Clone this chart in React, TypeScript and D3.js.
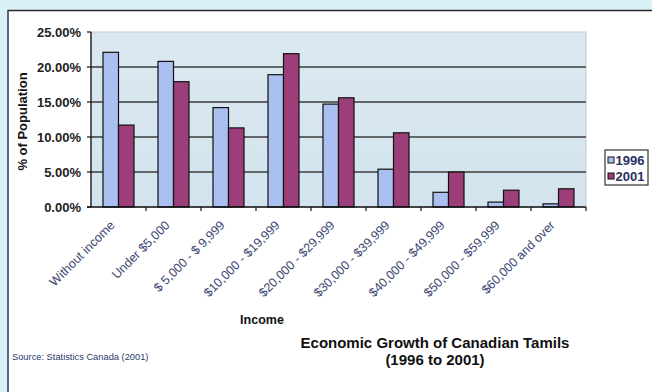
import React from "react";
import * as d3 from "d3";

const categories = [
  "Without income",
  "Under $5,000",
  "$ 5,000 - $ 9,999",
  "$10,000 - $19,999",
  "$20,000 - $29,999",
  "$30,000 - $39,999",
  "$40,000 - $49,999",
  "$50,000 - $59,999",
  "$60,000 and over",
];
const seriesNames = ["1996", "2001"];
const values1996 = [22.1, 20.8, 14.2, 18.9, 14.7, 5.4, 2.1, 0.7, 0.45];
const values2001 = [11.7, 17.9, 11.3, 21.9, 15.6, 10.6, 5.0, 2.4, 2.6];
const yTicks = [0, 5, 10, 15, 20, 25];

const W = 652;
const H = 392;
const FONT = "'Liberation Sans', Arial, sans-serif";
const colors = ["#a9c0f0", "#9c3e79"];

export default function App() {
  const plot = { left: 91, right: 586, top: 32, bottom: 207 };
  const x = d3.scaleBand<string>().domain(categories).range([plot.left, plot.right]).padding(0);
  const xi = d3
    .scaleBand<string>()
    .domain(seriesNames)
    .range([0, x.bandwidth()])
    .paddingInner(0)
    .paddingOuter(0.774);
  const y = d3.scaleLinear().domain([0, 25]).range([plot.bottom, plot.top]);
  const series = [values1996, values2001];
  const fmt = (v: number) => d3.format(".2f")(v) + "%";

  return (
    <svg
      width={W}
      height={H}
      style={{ position: "absolute", left: 0, top: 0 }}
      fontFamily={FONT}
    >
      <defs>
        <linearGradient id="plotbg" x1="0" y1="0" x2="0" y2="1">
          <stop offset="0" stopColor="#dbe8ef" />
          <stop offset="1" stopColor="#d3e4ee" />
        </linearGradient>
      </defs>
      <rect x={0} y={0} width={W} height={H} fill="#d9f0f6" />
      <rect x={8} y={10} width={W} height={H} fill="#ffffff" />
      <line x1={8} y1={10.5} x2={W} y2={10.5} stroke="#2a2a2a" strokeWidth={1.5} />
      <line x1={8} y1={10} x2={8} y2={H} stroke="#2a3a5a" strokeWidth={1.5} />

      {/* plot area */}
      <rect
        x={plot.left}
        y={plot.top}
        width={plot.right - plot.left}
        height={plot.bottom - plot.top}
        fill="url(#plotbg)"
        stroke="#bccbd4"
        strokeWidth={1}
      />
      {yTicks
        .filter((t) => t > 0 && t < 25)
        .map((t) => (
          <line
            key={"g" + t}
            x1={plot.left}
            x2={plot.right}
            y1={y(t)}
            y2={y(t)}
            stroke="#3c3c3c"
            strokeWidth={1.3}
          />
        ))}

      {/* bars */}
      {categories.map((c, i) =>
        series.map((s, j) => (
          <rect
            key={c + j}
            x={(x(c) as number) + (xi(seriesNames[j]) as number)}
            y={y(s[i])}
            width={xi.bandwidth()}
            height={y(0) - y(s[i])}
            fill={colors[j]}
            stroke="#111"
            strokeWidth={1.2}
          />
        ))
      )}

      {/* axes */}
      <line x1={plot.left} x2={plot.left} y1={plot.top} y2={plot.bottom} stroke="#111" strokeWidth={1.3} />
      <line x1={plot.left - 4} x2={plot.right} y1={plot.bottom} y2={plot.bottom} stroke="#111" strokeWidth={1.3} />
      {yTicks.map((t) => (
        <g key={"yt" + t}>
          <line x1={plot.left - 4} x2={plot.left} y1={y(t)} y2={y(t)} stroke="#111" strokeWidth={1.2} />
          <text
            x={81}
            y={y(t)}
            dy="0.35em"
            textAnchor="end"
            fontSize={13}
            fontWeight="bold"
            fill="#222"
          >
            {fmt(t)}
          </text>
        </g>
      ))}
      {categories.map((c, i) => (
        <line
          key={"xt" + i}
          x1={(x(c) as number) + x.bandwidth()}
          x2={(x(c) as number) + x.bandwidth()}
          y1={plot.bottom}
          y2={plot.bottom + 4}
          stroke="#111"
          strokeWidth={1.2}
        />
      ))}
      {categories.map((c) => {
        const cx = (x(c) as number) + x.bandwidth() / 2;
        return (
          <text
            key={"xl" + c}
            transform={`translate(${cx - 3},${plot.bottom + 19}) rotate(-45)`}
            textAnchor="end"
            fontSize={12.5}
            fill="#3a4672"
          >
            {c}
          </text>
        );
      })}

      {/* axis titles */}
      <text
        transform={`translate(27,${(plot.top + plot.bottom) / 2 + 2}) rotate(-90)`}
        textAnchor="middle"
        fontSize={13}
        fontWeight="bold"
        fill="#111"
      >
        % of Population
      </text>
      <text x={262} y={324} textAnchor="middle" fontSize={12.5} fontWeight="bold" fill="#111">
        Income
      </text>

      {/* legend */}
      <rect x={605} y={150} width={43} height={35} fill="#fff" stroke="#333" strokeWidth={1.2} />
      {seriesNames.map((n, j) => (
        <g key={"lg" + n}>
          <rect x={608} y={157 + j * 16} width={6} height={6} fill={colors[j]} stroke="#111" strokeWidth={1} />
          <text x={615.5} y={165 + j * 16} fontSize={13} fontWeight="bold" fill="#2a3060">
            {n}
          </text>
        </g>
      ))}

      {/* title */}
      <text x={435} y={348} textAnchor="middle" fontSize={15} fontWeight="bold" fill="#111">
        Economic Growth of Canadian Tamils
      </text>
      <text x={435} y={365} textAnchor="middle" fontSize={15} fontWeight="bold" fill="#111">
        (1996 to 2001)
      </text>

      <text x={12} y={360} fontSize={9.3} fill="#2a3a6a">
        Source: Statistics Canada (2001)
      </text>
    </svg>
  );
}
